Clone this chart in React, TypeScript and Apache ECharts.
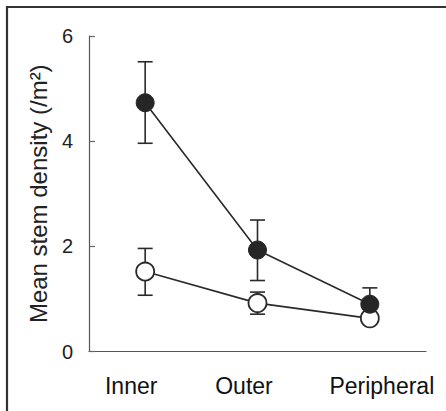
import React, { useEffect, useRef } from "react";
import * as echarts from "echarts";

const categories = ["Inner", "Outer", "Peripheral"];
const yTicks = [0, 2, 4, 6];
const filledMean = [4.73, 1.93, 0.9];
const filledLow = [3.96, 1.35, 0.62];
const filledHigh = [5.51, 2.5, 1.21];
const openMean = [1.52, 0.92, 0.63];
const openLow = [1.07, 0.71, 0.55];
const openHigh = [1.96, 1.13, 0.7];
const labelPads = [
  [0, 28, 0, 0],
  [0, 27, 0, 0],
  [0, 0, 0, 24],
];

const FONT = "'Liberation Sans', Arial, Helvetica, sans-serif";
const INK = "#2a2a2a";

function errorSeries(low: number[], high: number[], z: number) {
  return {
    type: "custom",
    z,
    silent: true,
    data: categories.map((c, i) => [i, low[i], high[i]]),
    renderItem: (params: any, api: any) => {
      const x = api.value(0);
      const lo = api.coord([x, api.value(1)]);
      const hi = api.coord([x, api.value(2)]);
      const hw = 7.5;
      const style = { stroke: INK, lineWidth: 1.6 };
      return {
        type: "group",
        children: [
          { type: "line", shape: { x1: lo[0], y1: lo[1], x2: hi[0], y2: hi[1] }, style },
          { type: "line", shape: { x1: lo[0] - hw, y1: lo[1], x2: lo[0] + hw, y2: lo[1] }, style },
          { type: "line", shape: { x1: hi[0] - hw, y1: hi[1], x2: hi[0] + hw, y2: hi[1] }, style },
        ],
      };
    },
  };
}

export default function App() {
  const ref = useRef<HTMLDivElement>(null);
  useEffect(() => {
    if (!ref.current) return;
    const chart = echarts.init(ref.current, null, { renderer: "svg" });
    chart.setOption({
      animation: false,
      backgroundColor: "#ffffff",
      grid: { left: 89, right: 20, top: 36, bottom: 59.5 },
      xAxis: {
        type: "category",
        boundaryGap: true,
        data: categories.map((c, i) => ({
          value: c,
          textStyle: { padding: labelPads[i] },
        })),
        axisLine: { lineStyle: { color: "#555", width: 1.2 } },
        axisTick: { inside: true, length: 6, lineStyle: { color: "#555", width: 1.2 } },
        axisLabel: { interval: 0, color: "#111", fontSize: 23, fontFamily: FONT, margin: 23 },
        splitLine: { show: false },
      },
      yAxis: {
        type: "value",
        min: 0,
        max: 6,
        interval: 2,
        name: "Mean stem density (/m²)",
        nameLocation: "middle",
        nameGap: 33,
        nameTextStyle: { color: "#222", fontSize: 24, fontFamily: FONT },
        axisLine: { show: true, lineStyle: { color: "#555", width: 1.2 } },
        axisTick: { show: true, inside: true, length: 6, lineStyle: { color: "#666", width: 1.2 } },
        axisLabel: {
          color: "#222",
          fontSize: 20,
          fontFamily: FONT,
          margin: 16,
          formatter: (v: number) => (yTicks.includes(v) ? String(v) : ""),
        },
        splitLine: { show: false },
      },
      graphic: [
        { type: "line", shape: { x1: 6, y1: 7, x2: 446, y2: 7 }, style: { stroke: "#333", lineWidth: 2.2 } },
        { type: "line", shape: { x1: 7, y1: 6, x2: 7, y2: 411 }, style: { stroke: "#333", lineWidth: 2.2 } },
      ],
      series: [
        errorSeries(openLow, openHigh, 1),
        errorSeries(filledLow, filledHigh, 1),
        {
          type: "line",
          z: 3,
          data: openMean,
          symbol: "circle",
          symbolSize: 18,
          lineStyle: { color: INK, width: 1.6 },
          itemStyle: { color: "#ffffff", borderColor: INK, borderWidth: 1.8 },
        },
        {
          type: "line",
          z: 4,
          data: filledMean,
          symbol: "circle",
          symbolSize: 18,
          lineStyle: { color: INK, width: 1.6 },
          itemStyle: { color: "#262626", borderColor: "#262626", borderWidth: 1 },
        },
      ],
    });
    return () => chart.dispose();
  }, []);
  return (
    <div
      ref={ref}
      style={{ position: "fixed", left: 0, top: 0, width: 446, height: 411 }}
    />
  );
}
